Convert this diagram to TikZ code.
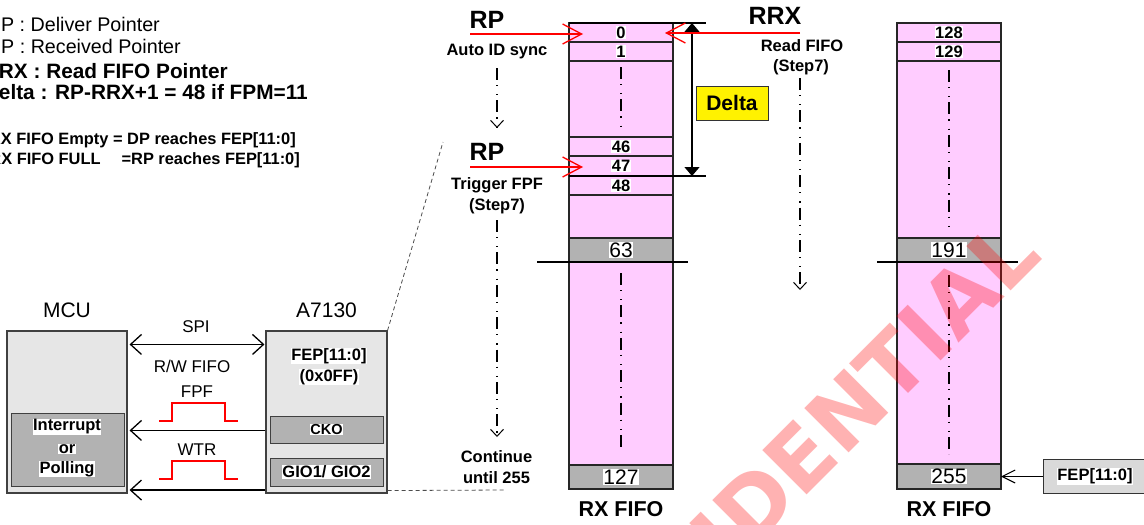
\documentclass[tikz,border=0pt]{standalone}
\usepackage{fontspec}
\setmainfont{Liberation Sans}
\newfontfamily\wmfont{DejaVu Sans}
\usetikzlibrary{arrows.meta}
\definecolor{pinkfill}{HTML}{FFCCFF}
\definecolor{rowgray}{HTML}{B2B2B2}
\definecolor{boxgray}{HTML}{E6E6E6}
\definecolor{fepgray}{HTML}{D9D9D9}
\newcommand\pxf[1]{\fontsize{#1}{#1}\selectfont}
\tikzset{
  cell/.style={draw=black!85, line width=1.1pt, minimum width=104pt, inner sep=0pt, outer sep=0pt, fill=pinkfill},
  graycell/.style={cell, fill=rowgray},
  numb/.style={fill=white, inner sep=0.4pt, font=\bfseries\pxf{16.5}},
  numl/.style={fill=white, inner sep=0.4pt, font=\pxf{21}},
  sepline/.style={line width=2.4pt},
  box/.style={draw=black!75, line width=1.1pt, fill=boxgray, inner sep=0pt},
  inbox/.style={draw=black!75, line width=1pt, fill=rowgray, inner sep=0pt},
  hlb/.style={fill=white, inner sep=0.4pt, font=\bfseries\pxf{16.5}},
  txt/.style={inner sep=0pt, font=\pxf{17}},
  btxt/.style={inner sep=0pt, font=\bfseries\pxf{16.5}},
  bigb/.style={inner sep=0pt, font=\bfseries\pxf{25}},
  redarr/.style={draw=red, line width=1.3pt, -{Straight Barb[length=19pt,width=20pt,line width=1.3pt]}},
  blkarr/.style={line width=1.3pt, -{Straight Barb[length=11pt,width=20pt,line width=1.3pt]}},
  blkdbl/.style={line width=1.3pt, {Straight Barb[length=11pt,width=20pt,line width=1.3pt]}-{Straight Barb[length=11pt,width=20pt,line width=1.3pt]}},
  dd/.style={line width=1.1pt, dash pattern=on 12pt off 5pt on 1.2pt off 8pt on 1.2pt off 5pt},
  ddarr/.style={dd, -{Straight Barb[length=7pt,width=13pt,line width=1pt]}},
  pulse/.style={draw=red, line width=1.2pt},
  zoomline/.style={draw=black!70, line width=0.8pt, dash pattern=on 4pt off 3pt},
}
\begin{document}
\begin{tikzpicture}[x=1pt,y=-1pt]
\useasboundingbox (0,0) rectangle (1144,525);
\clip (0,0) rectangle (1144,525);
\fill[white] (0,0) rectangle (1144,525);

% legend (clipped at the left edge)
\begin{scope}[every node/.style={anchor=base east, inner sep=0pt}]
\node[font=\pxf{19.7}] (l1) at (160,31) {DP : Deliver Pointer};
\node[font=\pxf{19.7}] (l2) at (181,53) {RP : Received Pointer};
\node[font=\bfseries\pxf{20.8}] (l3) at (228,78) {RRX : Read FIFO Pointer};
\node[font=\bfseries\pxf{20.8}] (l4) at (308,99) {Delta : RP-RRX+1 = 48 if FPM=11};
\node[font=\bfseries\pxf{16.4}] (l5) at (296,144) {RX FIFO Empty = DP reaches FEP[11:0]};
\node[font=\bfseries\pxf{16.4}] (l6) at (300,164) {RX FIFO FULL\hspace{21pt}=RP reaches FEP[11:0]};
\end{scope}

% MCU
\node[inner sep=0pt, font=\pxf{21}] (mcut) at (67,310) {MCU};
\node[box, minimum width=120pt, minimum height=162pt] (mcu) at (67,412) {};
\node[inbox, minimum width=113pt, minimum height=73pt] (intr) at (67.5,449.5) {};
\node[hlb] at (67,427) {Interrupt};
\node[hlb] at (67,449) {or};
\node[hlb] at (67,469) {Polling};

% A7130
\node[inner sep=0pt, font=\pxf{21}] (chipt) at (326.5,310) {A7130};
\node[box, minimum width=121pt, minimum height=162pt] (chip) at (326.5,412) {};
\node[hlb] at (329,356) {FEP[11:0]};
\node[hlb] at (329,377) {(0x0FF)};
\node[inbox, minimum width=113pt, minimum height=27pt] (cko) at (326.5,429.5) {};
\node[hlb, font=\bfseries\pxf{14.5}] at (326.5,429.5) {CKO};
\node[inbox, minimum width=113pt, minimum height=28pt] (gio) at (326.5,472) {};
\node[hlb] at (326.5,472) {GIO1/ GIO2};

% interface
\draw[blkdbl] ([xshift=2pt,yshift=-14pt]mcu.north east) -- ([xshift=-1pt,yshift=-14pt]chip.north west);
\node[txt] at (196,327) {SPI};
\node[txt] at (192,366) {R/W FIFO};
\node[txt] at (197,392) {FPF};
\draw[pulse] (159,421) -- (172,421) -- (172,403) -- (225,403) -- (225,421) -- (238,421);
\draw[blkarr] ([yshift=-100pt]chip.north west) -- ([xshift=2pt,yshift=-100pt]mcu.north east);
\node[txt] at (197,450) {WTR};
\draw[pulse] (159,479) -- (172,479) -- (172,461) -- (225,461) -- (225,479) -- (238,479);
\draw[blkarr] ([yshift=3.5pt]chip.south west) -- ([xshift=2pt,yshift=3.5pt]mcu.south east);

% zoom lines
\coordinate (zt) at (443,142);
\coordinate (zb) at (506,490);
\draw[zoomline] (chip.north east) -- (zt);
\draw[zoomline] ([yshift=3pt]chip.south east) -- (zb);

% RX FIFO 1
\node[cell, minimum height=19pt] (c0) at (621,32.5) {};
\node[cell, minimum height=19pt] (c1) at (621,51.5) {};
\node[cell, minimum height=76pt] (cd) at (621,99) {};
\node[cell, minimum height=19pt] (c46) at (621,146.5) {};
\node[cell, minimum height=20pt] (c47) at (621,166) {};
\node[cell, minimum height=19pt] (c48) at (621,185.5) {};
\node[cell, minimum height=43pt] (cm) at (621,216.5) {};
\node[graycell, minimum height=24pt] (c63) at (621,250) {};
\node[cell, minimum height=203pt] (cl) at (621,363.5) {};
\node[graycell, minimum height=24pt] (c127) at (621,477) {};
\coordinate (dtop) at (706,23);
\coordinate (dbot) at (706,176);
\draw[sepline] (c0.north west) -- (dtop);
\draw[sepline] (c48.north west) -- (dbot);
\draw[sepline] ([xshift=-32pt]c63.south west) -- ([xshift=15pt]c63.south east);
\node[numb] at (c0) {0};
\node[numb] at (c1) {1};
\node[numb] at (c46) {46};
\node[numb] at (c47) {47};
\node[numb] at (c48) {48};
\node[numl] at (c63) {63};
\node[numl] at (c127) {127};
\draw[dd] (621,67) -- (621,131);
\draw[dd] (621,273) -- (621,448);
\node[inner sep=0pt, font=\bfseries\pxf{21.5}] at (621,509) {RX FIFO};

% Delta
\coordinate (da) at (692,23);
\coordinate (db) at (692,176);
\draw[line width=1.4pt, {Triangle[length=9pt,width=15pt]}-{Triangle[length=9pt,width=15pt]}] (da) -- (db);
\node[draw=black!80, fill=yellow, line width=1pt, minimum width=72pt, minimum height=34pt, inner sep=0pt, font=\bfseries\pxf{21}] (delta) at (732,103) {Delta};

% RP pointers
\node[bigb] at (487,19.5) {RP};
\coordinate (rp1s) at (470,34);
\coordinate (rp1t) at (583,34);
\draw[redarr] (rp1s) -- (rp1t);
\node[btxt] at (497,52) {Auto ID sync};
\coordinate (a1s) at (497,68);
\coordinate (a1t) at (497,128);
\draw[ddarr] (a1s) -- (a1t);
\node[bigb] at (487,152) {RP};
\coordinate (rp2s) at (470,167);
\coordinate (rp2t) at (583,167);
\draw[redarr] (rp2s) -- (rp2t);
\node[btxt] at (497,185) {Trigger FPF};
\node[btxt] at (497,206) {(Step7)};
\coordinate (a2s) at (497,220);
\coordinate (a2t) at (497,437);
\draw[ddarr] (a2s) -- (a2t);
\node[btxt] at (496.5,457) {Continue};
\node[btxt] at (496.5,478) {until 255};

% RRX pointer
\node[bigb] at (775,16) {RRX};
\coordinate (rrxs) at (800,33);
\coordinate (rrxt) at (665,33);
\draw[redarr] (rrxs) -- (rrxt);
\node[btxt] at (802,46) {Read FIFO};
\node[btxt] at (801,67) {(Step7)};
\coordinate (a3s) at (800,78);
\coordinate (a3t) at (800,290);
\draw[ddarr] (a3s) -- (a3t);

% RX FIFO 2
\node[cell, minimum height=19pt] (d128) at (949,32.5) {};
\node[cell, minimum height=19pt] (d129) at (949,51.5) {};
\node[cell, minimum height=177pt] (dm) at (949,149.5) {};
\node[graycell, minimum height=24pt] (d191) at (949,250) {};
\node[cell, minimum height=202pt] (dl) at (949,363) {};
\node[graycell, minimum height=25pt] (d255) at (949,476.5) {};
\draw[sepline] ([xshift=-20pt]d191.south west) -- ([xshift=17pt]d191.south east);
\node[numb] at (d128) {128};
\node[numb] at (d129) {129};
\node[numl] at (d191) {191};
\node[numl] at (d255) {255};
\draw[dd] (949,70) -- (949,227);
\draw[dd] (949,275) -- (949,454);
\node[inner sep=0pt, font=\bfseries\pxf{21.5}] at (949,509) {RX FIFO};

% FEP box
\node[draw=black!80, fill=fepgray, line width=1pt, minimum width=110pt, minimum height=34pt, inner sep=0pt, anchor=west] (fep) at (1043,476.5) {};
\node[hlb] at (1095,476.5) {FEP[11:0]};
\draw[line width=1.1pt, -{Straight Barb[length=13pt,width=13pt,line width=1.1pt]}] (fep.west) -- (d255.east);

% watermark
\node[rotate=45, anchor=base east, inner sep=0pt, text=red, opacity=0.3, font=\wmfont\bfseries\pxf{86}] (wm) at (1044,258) {CONFIDENTIAL};
\end{tikzpicture}
\end{document}
